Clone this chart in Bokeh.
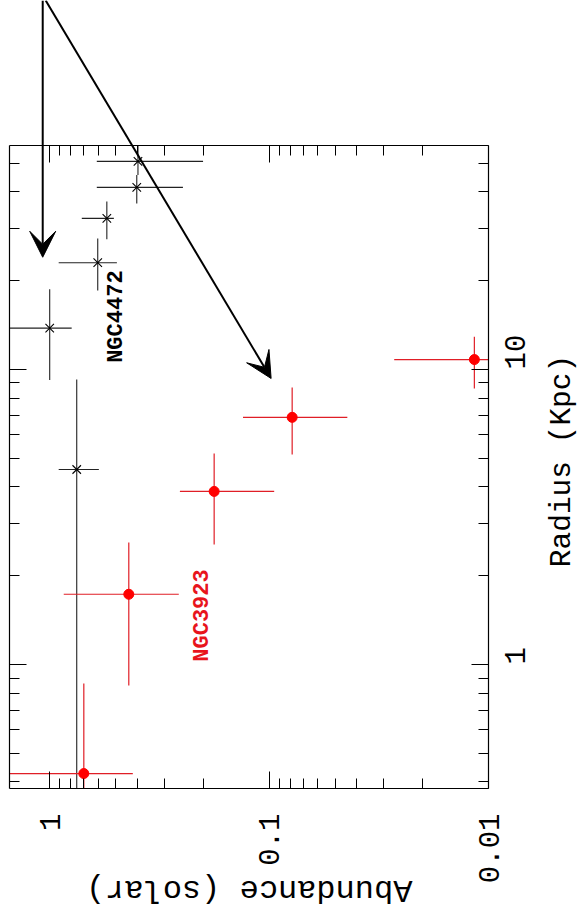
import math
import numpy as np
from bokeh.plotting import figure
from bokeh.models import Range1d, LogAxis, FixedTicker, Arrow, VeeHead, Label, ColumnDataSource
from bokeh.core.properties import value
from bokeh.embed import file_html
from bokeh.resources import INLINE

# ---- axes (abundance runs right-to-left, radius bottom-to-top) ----
abund_range = [1.52, 0.01]
radius_range = [0.38, 57.4]
abund_ticks = [0.01, 0.1, 1.0]
abund_tick_labels = ["0.01", "0.1", "1"]
abund_minor = [0.02, 0.03, 0.04, 0.05, 0.06, 0.07, 0.08, 0.09,
               0.2, 0.3, 0.4, 0.5, 0.6, 0.7, 0.8, 0.9]
radius_ticks = [1.0, 10.0]
radius_tick_labels = ["1", "10"]
radius_minor = [0.4, 0.5, 0.6, 0.7, 0.8, 0.9, 2, 3, 4, 5, 6, 7, 8, 9, 20, 30, 40, 50]

# ---- NGC4472 (black) ----
n4472_abund = [0.396, 0.401, 0.549, 0.604, 1.0, 0.753]
n4472_abund_lo = [0.200, 0.247, 0.510, 0.494, 0.794, 0.597]
n4472_abund_hi = [0.610, 0.610, 0.714, 0.910, 1.6, 0.910]
n4472_radius = [50.7, 41.4, 32.5, 23.0, 13.8, 4.58]
n4472_radius_lo = [45.6, 36.5, 27.6, 18.5, 9.2, 0.3]
n4472_radius_hi = [70.0, 45.6, 37.1, 27.8, 18.7, 9.25]

# ---- NGC3923 (red) ----
n3923_abund = [0.699, 0.436, 0.178, 0.0785, 0.0116]
n3923_abund_lo = [0.418, 0.258, 0.0948, 0.0440, 0.008]
n3923_abund_hi = [2.0, 0.863, 0.255, 0.1315, 0.0269]
n3923_radius = [0.427, 1.73, 3.86, 6.88, 10.8]
n3923_radius_lo = [0.3, 0.849, 2.55, 5.15, 8.62]
n3923_radius_hi = [0.862, 2.59, 5.19, 8.69, 12.9]

# ---- in-plot labels ----
label_text = ["NGC4472", "NGC3923"]
label_abund = [0.494, 0.202]
label_radius = [15.1, 1.466]
label_color = ["black", "#e8141c"]

# ---- annotation arrows ----
arrow_abund_start = [1.076, 1.043]
arrow_radius_start = [178.0, 178.0]
arrow_abund_end = [1.076, 0.0979]
arrow_radius_end = [24.0, 9.32]

MONO = "Liberation Mono"

# ---- layout: plot box position inside the 580x919 canvas ----
W, H = 580, 919
BOX_L, BOX_R, BOX_T, BOX_B = 9.3, 488.0, 145.0, 788.0

la0, la1 = math.log10(abund_range[0]), math.log10(abund_range[1])
lr0, lr1 = math.log10(radius_range[0]), math.log10(radius_range[1])


def abund_at(px):
    return 10 ** (la0 + (px - BOX_L) / (BOX_R - BOX_L) * (la1 - la0))


def radius_at(py):
    return 10 ** (lr0 + (BOX_B - py) / (BOX_B - BOX_T) * (lr1 - lr0))


p = figure(width=W, height=H, x_axis_type="log", y_axis_type="log",
           x_range=Range1d(abund_at(0), abund_at(W)),
           y_range=Range1d(radius_at(H), radius_at(0)),
           x_axis_location=None, y_axis_location=None,
           output_backend="svg", toolbar_location=None,
           min_border=0, min_border_left=0, min_border_right=0,
           min_border_top=0, min_border_bottom=0)
p.grid.visible = False
p.outline_line_color = None
p.background_fill_color = "white"
p.border_fill_color = "white"

a_lo, a_hi = min(abund_range), max(abund_range)
r_lo, r_hi = min(radius_range), max(radius_range)

bottom = LogAxis(fixed_location=radius_range[0], bounds=(a_lo, a_hi))
top = LogAxis(fixed_location=radius_range[1], bounds=(a_lo, a_hi))
right = LogAxis(fixed_location=abund_range[1], bounds=(r_lo, r_hi))
left = LogAxis(fixed_location=abund_range[0], bounds=(r_lo, r_hi))
p.add_layout(bottom, "below")
p.add_layout(top, "above")
p.add_layout(right, "right")
p.add_layout(left, "left")

for ax in (bottom, top):
    ax.ticker = FixedTicker(ticks=abund_ticks, minor_ticks=abund_minor)
for ax in (right, left):
    ax.ticker = FixedTicker(ticks=radius_ticks, minor_ticks=radius_minor)

for ax in (bottom, top, right, left):
    ax.major_tick_in = 17
    ax.major_tick_out = 0
    ax.minor_tick_in = 10
    ax.minor_tick_out = 0
    ax.axis_line_color = "black"
    ax.axis_line_width = 1.2
    ax.major_tick_line_color = "black"
    ax.minor_tick_line_color = "black"
    ax.major_label_text_color = "black"
    ax.major_label_text_font = MONO

for ax, ticks in ((top, abund_ticks), (left, radius_ticks)):
    ax.major_label_overrides = {t: "" for t in ticks}
    ax.major_label_text_font_size = "0px"
    ax.major_label_standoff = 0

bottom.major_label_overrides = dict(zip(abund_ticks, abund_tick_labels))
bottom.major_label_orientation = math.pi / 2
bottom.major_label_text_font_size = "29px"
bottom.major_label_standoff = 25

right.major_label_overrides = dict(zip(radius_ticks, radius_tick_labels))
right.major_label_orientation = math.pi / 2
right.major_label_text_font_size = "29px"
right.major_label_standoff = 27


def clip_a(v):
    return list(np.clip(v, a_lo, a_hi))


def clip_r(v):
    return list(np.clip(v, r_lo, r_hi))


# error bars (clipped to the plot box) and points
s1 = ColumnDataSource(dict(a=n4472_abund, alo=clip_a(n4472_abund_lo), ahi=clip_a(n4472_abund_hi),
                           r=n4472_radius, rlo=clip_r(n4472_radius_lo), rhi=clip_r(n4472_radius_hi)))
s2 = ColumnDataSource(dict(a=n3923_abund, alo=clip_a(n3923_abund_lo), ahi=clip_a(n3923_abund_hi),
                           r=n3923_radius, rlo=clip_r(n3923_radius_lo), rhi=clip_r(n3923_radius_hi)))

p.segment(x0="alo", y0="r", x1="ahi", y1="r", source=s1, line_color="#222222", line_width=1.1)
p.segment(x0="a", y0="rlo", x1="a", y1="rhi", source=s1, line_color="#222222", line_width=1.1)
p.scatter(x="a", y="r", source=s1, marker="x", size=12, line_color="black", line_width=1.1)

p.segment(x0="alo", y0="r", x1="ahi", y1="r", source=s2, line_color="#e01e26", line_width=1.2)
p.segment(x0="a", y0="rlo", x1="a", y1="rhi", source=s2, line_color="#e01e26", line_width=1.2)
p.scatter(x="a", y="r", source=s2, marker="circle", size=10, fill_color="#ff0000",
          line_color="#ff0000")

p.text(x=label_abund, y=label_radius, text=label_text, angle=math.pi / 2,
       text_color=label_color, text_font=value(MONO), text_font_style="bold",
       text_font_size="22px", text_align="center", text_baseline="middle")

for xs, ys, xe, ye in zip(arrow_abund_start, arrow_radius_start, arrow_abund_end, arrow_radius_end):
    p.add_layout(Arrow(x_start=xs, y_start=ys, x_end=xe, y_end=ye,
                       line_color="black", line_width=2,
                       end=VeeHead(size=26, fill_color="black", line_color="black")))

# axis titles
geo_mid_abund = math.sqrt(abund_range[0] * abund_range[1])
geo_mid_radius = math.sqrt(radius_range[0] * radius_range[1])
p.add_layout(Label(x=geo_mid_abund, y=radius_range[0], y_offset=-101,
                   text="Abundance (solar)", angle=math.pi,
                   text_font=MONO, text_font_size="32px", text_color="black",
                   text_align="center", text_baseline="middle"))
p.add_layout(Label(x=abund_range[1], y=geo_mid_radius, x_offset=73, y_offset=6,
                   text="Radius (Kpc)", angle=math.pi / 2,
                   text_font=MONO, text_font_size="29.5px", text_color="black",
                   text_align="center", text_baseline="middle"))

open("out.html", "w").write(file_html(p, INLINE))
